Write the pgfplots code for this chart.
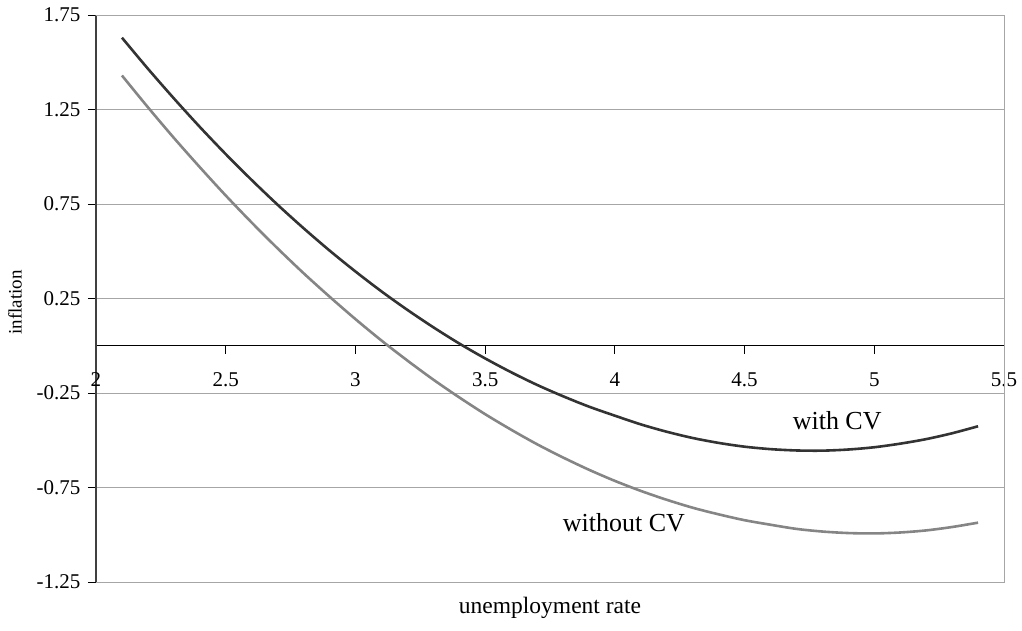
\documentclass[border=0pt]{standalone}
\usepackage{fontspec}
\setmainfont{Liberation Serif}
\usepackage{pgfplots}
\pgfplotsset{compat=1.18}
\definecolor{darkline}{HTML}{333333}
\definecolor{grayline}{HTML}{858585}
\definecolor{gridc}{HTML}{A6A6A6}
\begin{document}
\begin{tikzpicture}
\begin{axis}[
  scale only axis, width=908pt, height=567pt,
  xmin=2, xmax=5.5, ymin=-1.25, ymax=1.75,
  axis x line=middle, axis y line=left,
  axis line style={-},
  x axis line style={black, line width=0.8pt},
  y axis line style={color=black!75, line width=1.6pt},
  hide obscured x ticks=false,
  xtick={2,2.5,3,3.5,4,4.5,5,5.5},
  xticklabels={2,2.5,3,3.5,4,4.5,5,5.5},
  ytick={-1.25,-0.75,-0.25,0.25,0.75,1.25,1.75},
  yticklabels={-1.25,-0.75,-0.25,0.25,0.75,1.25,1.75},
  tick align=outside, major tick length=8pt,
  tick style={black, line width=0.8pt},
  xticklabel style={font=\fontsize{21}{24}\selectfont, yshift=-15pt},
  yticklabel style={font=\fontsize{21}{24}\selectfont, xshift=-4pt},
  ymajorgrids, grid style={color=gridc, line width=0.9pt},
  clip=false,
]
\draw[gridc, line width=0.9pt] (rel axis cs:0,1) -- (rel axis cs:1,1) -- (rel axis cs:1,0) -- (rel axis cs:0,0);
\addplot[darkline, line width=2.6pt, smooth] coordinates {
(2.1,1.630) (2.2,1.466) (2.3,1.309) (2.4,1.158) (2.5,1.014) (2.6,0.877) (2.7,0.746)
(2.8,0.622) (2.9,0.504) (3.0,0.393) (3.1,0.288) (3.2,0.190) (3.3,0.098) (3.4,0.012)
(3.5,-0.067) (3.6,-0.140) (3.7,-0.207) (3.8,-0.267) (3.9,-0.322) (4.0,-0.370)
(4.1,-0.416) (4.2,-0.455) (4.3,-0.488) (4.4,-0.514) (4.5,-0.534) (4.6,-0.547)
(4.7,-0.554) (4.8,-0.555) (4.9,-0.549) (5.0,-0.537) (5.1,-0.518) (5.2,-0.494)
(5.3,-0.463) (5.4,-0.426)
};
\addplot[grayline, line width=2.6pt, smooth] coordinates {
(2.1,1.430) (2.2,1.262) (2.3,1.100) (2.4,0.945) (2.5,0.795) (2.6,0.652) (2.7,0.515)
(2.8,0.384) (2.9,0.260) (3.0,0.141) (3.1,0.028) (3.2,-0.078) (3.3,-0.179) (3.4,-0.273)
(3.5,-0.362) (3.6,-0.444) (3.7,-0.521) (3.8,-0.591) (3.9,-0.656) (4.0,-0.715)
(4.1,-0.768) (4.2,-0.815) (4.3,-0.857) (4.4,-0.892) (4.5,-0.923) (4.6,-0.947)
(4.7,-0.969) (4.8,-0.983) (4.9,-0.991) (5.0,-0.993) (5.1,-0.988) (5.2,-0.977)
(5.3,-0.959) (5.4,-0.936)
};
\node[font=\fontsize{26}{30}\selectfont] at (axis cs:4.857,-0.397) {with CV};
\node[font=\fontsize{26}{30}\selectfont] at (axis cs:4.035,-0.938) {without CV};
\node[font=\fontsize{23.5}{27}\selectfont, anchor=north] at ([yshift=-12pt]rel axis cs:0.5,0) {unemployment rate};
\node[font=\fontsize{19}{22}\selectfont, rotate=90] at ([xshift=-81pt,yshift=-4pt]rel axis cs:0,0.5) {inflation};
\path (rel axis cs:0,0) ++(-96pt,-48pt) (rel axis cs:1,1) ++(18pt,15pt);
\end{axis}
\end{tikzpicture}
\end{document}
